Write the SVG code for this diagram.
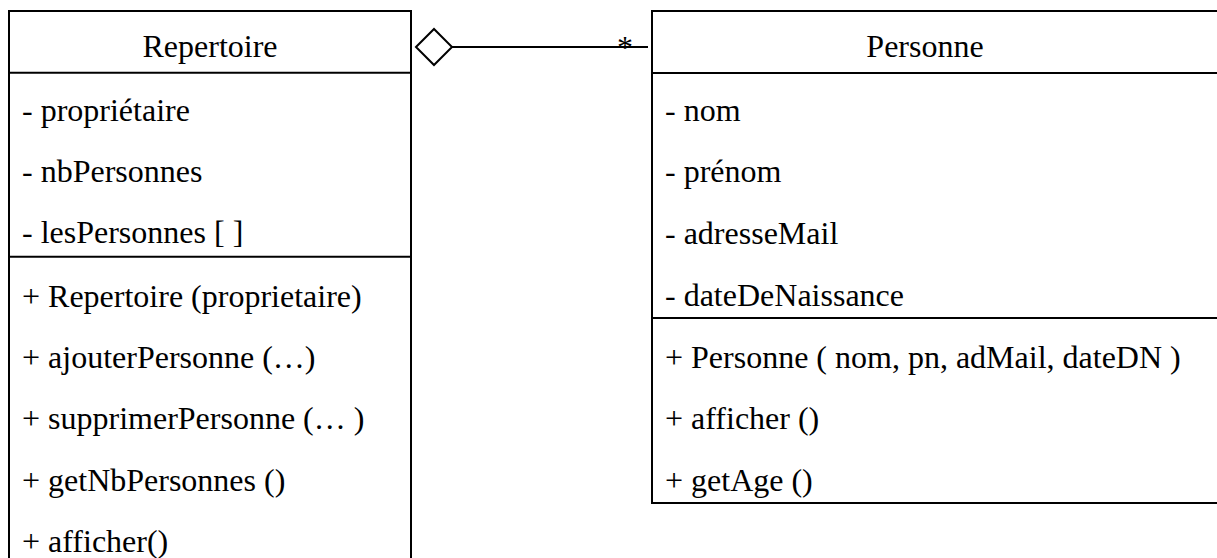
<svg xmlns="http://www.w3.org/2000/svg" width="1217" height="558" viewBox="0 0 1217 558">
<style>
.box{fill:#fff;stroke:#000;stroke-width:2}
.sep{stroke:#000;stroke-width:2}
text{font-family:'Liberation Serif','DejaVu Serif',serif;font-size:32px;fill:#000}
.title{text-anchor:middle}
</style>
<rect width="1217" height="558" fill="#fff"/>
<g id="repertoire" font-family="Liberation Serif, DejaVu Serif, serif">
<rect class="box" x="9" y="11" width="402" height="560"/>
<line class="sep" x1="9" y1="72.7" x2="411" y2="72.7"/>
<line class="sep" x1="9" y1="256.7" x2="411" y2="256.7"/>
<text class="title" x="210" y="57">Repertoire</text>
<text x="22" y="120.5">- propriétaire</text>
<text x="22" y="181.8">- nbPersonnes</text>
<text x="22" y="243">- lesPersonnes [ ]</text>
<text x="22" y="306.5">+ Repertoire (proprietaire)</text>
<text x="22" y="368">+ ajouterPersonne (…)</text>
<text x="22" y="429.4">+ supprimerPersonne (… )</text>
<text x="22" y="490.8">+ getNbPersonnes ()</text>
<text x="22" y="552">+ afficher()</text>
</g>
<g id="personne" font-family="Liberation Serif, DejaVu Serif, serif">
<rect class="box" x="652" y="11" width="580" height="492"/>
<line class="sep" x1="652" y1="73" x2="1232" y2="73"/>
<line class="sep" x1="652" y1="318" x2="1232" y2="318"/>
<text class="title" x="925" y="57">Personne</text>
<text x="665" y="120.5">- nom</text>
<text x="665" y="181.8">- prénom</text>
<text x="665" y="243.5">- adresseMail</text>
<text x="665" y="305.5">- dateDeNaissance</text>
<text x="665" y="368">+ Personne ( nom, pn, adMail, dateDN )</text>
<text x="665" y="429.4">+ afficher ()</text>
<text x="665" y="490.8">+ getAge ()</text>
</g>
<g id="connectors" font-family="Liberation Serif, DejaVu Serif, serif">
<line x1="452" y1="47" x2="648" y2="47" stroke="#000" stroke-width="2"/>
<polygon points="416,47 434,29 452,47 434,65" fill="#fff" stroke="#000" stroke-width="2"/>
<text x="625" y="58" text-anchor="middle">*</text>
</g>
</svg>
